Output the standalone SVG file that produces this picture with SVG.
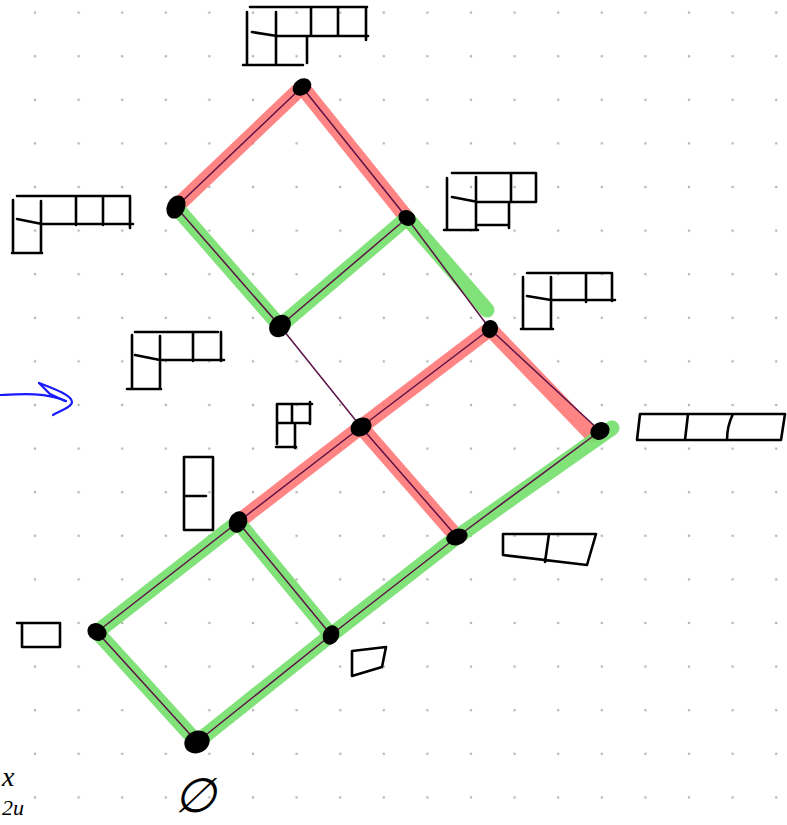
<svg xmlns="http://www.w3.org/2000/svg" width="787" height="825" viewBox="0 0 787 825">
<style>
.yd{fill:none;stroke:#000;stroke-width:2.6;stroke-linecap:round;stroke-linejoin:round}
.hr{stroke:#ff6f6f;stroke-width:15;stroke-linecap:round;opacity:0.85;fill:none}
.hg{stroke:#74df6c;stroke-width:15;stroke-linecap:round;opacity:0.9;fill:none}
.ln{stroke:#5c1245;stroke-width:1.5;fill:none}
.dot{fill:#000}
.hw{font-family:"Liberation Serif",serif;font-style:italic;fill:#000}
</style>
<defs>
<pattern id="grid" x="13.2" y="-9.2" width="43.6" height="43.6" patternUnits="userSpaceOnUse">
<circle cx="21.8" cy="21.8" r="1.3" fill="#b5b5b5"/>
</pattern>
</defs>
<rect width="787" height="825" fill="#fff"/>
<rect width="787" height="825" fill="url(#grid)"/>

<g id="connectors">
<line class="hr" x1="302" y1="87" x2="176" y2="207"/>
<line class="hr" x1="302" y1="87" x2="407" y2="218"/>
<line class="hg" x1="176" y1="207" x2="280" y2="326"/>
<line class="hg" x1="407" y1="218" x2="280" y2="326"/>
<line class="hg" x1="407" y1="218" x2="487" y2="310"/>
<line class="hr" x1="490" y1="329" x2="361" y2="427"/>
<line class="hr" x1="490" y1="329" x2="592" y2="435"/>
<line class="hr" x1="361" y1="427" x2="238" y2="522"/>
<line class="hr" x1="361" y1="427" x2="457" y2="537"/>
<line class="hg" x1="612" y1="428" x2="457" y2="537"/>
<line class="hg" x1="238" y1="522" x2="97" y2="632"/>
<line class="hg" x1="238" y1="522" x2="331" y2="635"/>
<line class="hg" x1="457" y1="537" x2="331" y2="635"/>
<line class="hg" x1="97" y1="632" x2="197" y2="742"/>
<line class="hg" x1="331" y1="635" x2="197" y2="742"/>

<line class="ln" x1="302" y1="87" x2="176" y2="207"/>
<line class="ln" x1="302" y1="87" x2="407" y2="218"/>
<line class="ln" x1="176" y1="207" x2="280" y2="326"/>
<line class="ln" x1="407" y1="218" x2="280" y2="326"/>
<line class="ln" x1="407" y1="218" x2="490" y2="329"/>
<line class="ln" x1="280" y1="326" x2="361" y2="427"/>
<line class="ln" x1="490" y1="329" x2="361" y2="427"/>
<line class="ln" x1="490" y1="329" x2="600" y2="431"/>
<line class="ln" x1="361" y1="427" x2="238" y2="522"/>
<line class="ln" x1="361" y1="427" x2="457" y2="537"/>
<line class="ln" x1="600" y1="431" x2="457" y2="537"/>
<line class="ln" x1="238" y1="522" x2="97" y2="632"/>
<line class="ln" x1="238" y1="522" x2="331" y2="635"/>
<line class="ln" x1="457" y1="537" x2="331" y2="635"/>
<line class="ln" x1="97" y1="632" x2="197" y2="742"/>
<line class="ln" x1="331" y1="635" x2="197" y2="742"/>
</g>

<g id="arrow">
<path d="M0,395 C20,394 45,392 66,401" fill="none" stroke="#1a1aff" stroke-width="2.2" stroke-linecap="round"/>
<path d="M39,383 C52,388 72,395 72,402 C72,407 60,411 53,415" fill="none" stroke="#1a1aff" stroke-width="2.2" stroke-linecap="round"/>
<path d="M39,383 L50,394 L65,401" fill="none" stroke="#1a1aff" stroke-width="2.2" stroke-linecap="round"/>
</g>

<g id="n42">
<ellipse class="dot" cx="302" cy="87" rx="10" ry="8" transform="rotate(-35 302 87)"/>
<path class="yd" d="M250,7 H367 M366,7 V40 M252,32 L277,36 H368 M311,7 V36 M338,8 V36 M247,12 V65 M276,12 V65 M243,65 H303 M307,37 V63"/>
</g>
<g id="n41">
<ellipse class="dot" cx="176" cy="207" rx="9" ry="12" transform="rotate(25 176 207)"/>
<path class="yd" d="M17,196 H130 M130,196 V228 M17,219 L42,224 H133 M76,196 V225 M103,196 V225 M13,200 V253 M41,201 V253 M12,253 H42"/>
</g>
<g id="n32">
<ellipse class="dot" cx="407" cy="218" rx="9" ry="7.5" transform="rotate(30 407 218)"/>
<path class="yd" d="M452,173 H536 M536,173 V202 M452,197 L478,202 H536 M511,173 V202 M509,202 V228 M447,178 V230 M476,177 V230 M444,230 H478 M476,225 H509"/>
</g>
<g id="n31a">
<ellipse class="dot" cx="280" cy="326" rx="10" ry="12" transform="rotate(40 280 326)"/>
<path class="yd" d="M135,332 H218 M221,332 V361 M135,355 L160,360 H224 M193,332 V361 M132,335 V389 M160,336 V389 M127,389 H161"/>
</g>
<g id="n31b">
<ellipse class="dot" cx="490" cy="329" rx="8" ry="9" transform="rotate(20 490 329)"/>
<path class="yd" d="M527,273 H610 M612,273 V301 M527,296 L551,300 H615 M586,273 V302 M523,277 V329 M551,277 V329 M521,329 H553"/>
</g>
<g id="n21">
<ellipse class="dot" cx="361" cy="427" rx="11" ry="9" transform="rotate(-30 361 427)"/>
<path class="yd" d="M277,404 H312 M310,402 V424 M277,423 H310 M292,404 V423 M277,404 V444 M295,425 V448 M276,447 H296"/>
</g>
<g id="n3">
<ellipse class="dot" cx="600" cy="431" rx="10" ry="8.5" transform="rotate(-30 600 431)"/>
<path class="yd" d="M640,414 H785 L781,440 H637 Z M688,414 L685,440 M733,414 C729,422 727,432 727,440"/>
</g>
<g id="n11">
<ellipse class="dot" cx="238" cy="522" rx="9" ry="11" transform="rotate(25 238 522)"/>
<path class="yd" d="M184,457 H213 V530 H184 Z M184,496 H206"/>
</g>
<g id="n2">
<ellipse class="dot" cx="457" cy="537" rx="11" ry="8" transform="rotate(-20 457 537)"/>
<path class="yd" d="M503,534 H596 L587,565 L503,555 Z M549,534 L545,562"/>
</g>
<g id="n1">
<ellipse class="dot" cx="97" cy="632" rx="10" ry="8.5" transform="rotate(30 97 632)"/>
<path class="yd" d="M17,623 H60 V647 H22 V623"/>
</g>
<g id="n1b">
<ellipse class="dot" cx="331" cy="635" rx="8" ry="10" transform="rotate(25 331 635)"/>
<path class="yd" d="M352,651 L386,647 L382,667 L352,676 Z"/>
</g>
<g id="n0">
<ellipse class="dot" cx="197" cy="742" rx="13" ry="11" transform="rotate(-25 197 742)"/>
<text x="0" y="0" font-family="DejaVu Sans, sans-serif" font-size="48" text-anchor="middle" fill="#000" transform="translate(195 812) skewX(-14)">∅</text>
</g>

<g id="notes">
<text class="hw" x="2" y="786" font-size="28">x</text>
<text class="hw" x="2" y="815" font-size="22">2u</text>
</g>
</svg>
